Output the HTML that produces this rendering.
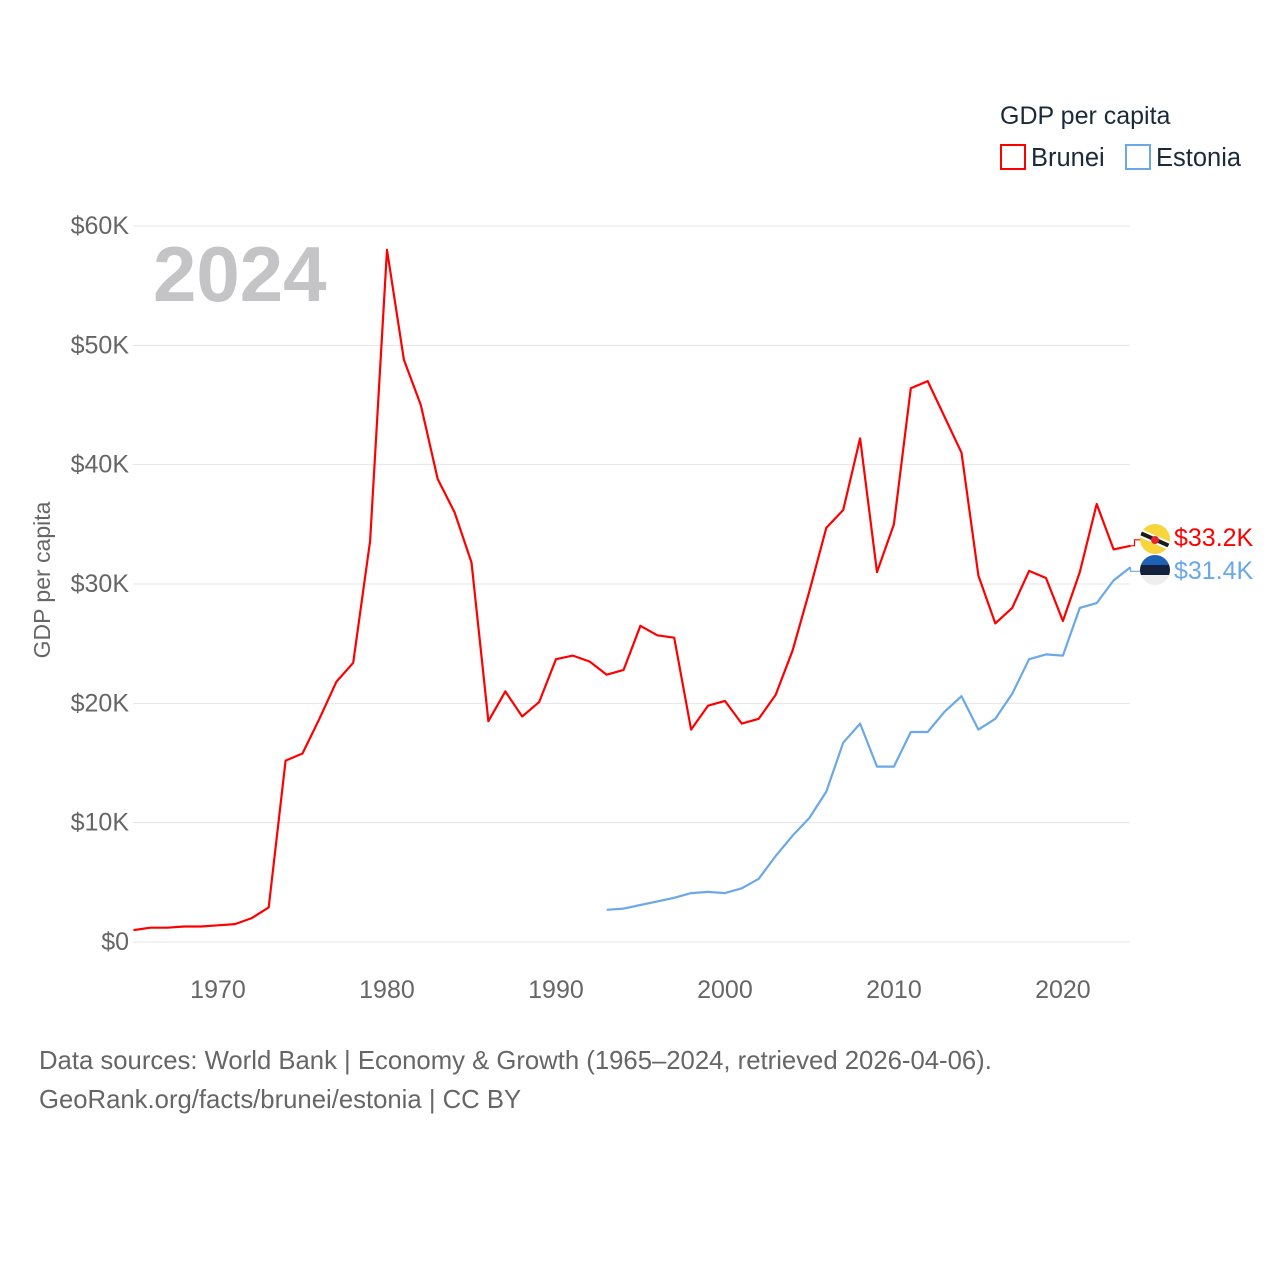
<!DOCTYPE html>
<html><head><meta charset="utf-8"><style>
body{margin:0;background:#fff;font-family:"Liberation Sans",sans-serif;}
svg text{font-family:"Liberation Sans",sans-serif;}
</style></head><body>
<svg id="chart" width="1280" height="1280" xmlns="http://www.w3.org/2000/svg">
<g id="grid"></g>
<g id="yticks"></g>
<g id="xticks"></g>
<text x="153" y="301" font-size="78" font-weight="bold" fill="#c4c4c6">2024</text>
<text transform="translate(50,580) rotate(-90)" text-anchor="middle" font-size="23" fill="#666">GDP per capita</text>
<g>
<text x="1000" y="124" font-size="25" fill="#1a2a3a">GDP per capita</text>
<rect x="1001" y="145" width="24" height="24" fill="none" stroke="#ff0000" stroke-width="2"/>
<text x="1031" y="166" font-size="25.5" fill="#1a2a3a">Brunei</text>
<rect x="1126" y="145" width="24" height="24" fill="none" stroke="#6aa8e8" stroke-width="2"/>
<text x="1156" y="166" font-size="25.5" fill="#1a2a3a">Estonia</text>
</g>
<g id="series"></g>
<g id="ends"></g>
<text x="39" y="1069" font-size="25.7" fill="#666">Data sources: World Bank | Economy &amp; Growth (1965–2024, retrieved 2026-04-06).</text>
<text x="39" y="1108" font-size="25.7" fill="#666">GeoRank.org/facts/brunei/estonia | CC BY</text>
</svg>
<script>
const yTicks=[0,10,20,30,40,50,60];
const yTickLabels=["$0","$10K","$20K","$30K","$40K","$50K","$60K"];
const xTicks=[1970,1980,1990,2000,2010,2020];
const bruneiStart=1965;
const bruneiValues=[1.0,1.2,1.2,1.3,1.3,1.4,1.5,2.0,2.9,15.2,15.8,18.7,21.8,23.4,33.6,58.0,48.8,45.0,38.8,36.0,31.8,18.5,21.0,18.9,20.1,23.7,24.0,23.5,22.4,22.8,26.5,25.7,25.5,17.8,19.8,20.2,18.3,18.7,20.7,24.4,29.4,34.7,36.2,42.2,31.0,35.0,46.4,47.0,44.0,41.0,30.7,26.7,28.0,31.1,30.5,26.9,31.0,36.7,32.9,33.2];
const estoniaStart=1993;
const estoniaValues=[2.7,2.8,3.1,3.4,3.7,4.1,4.2,4.1,4.5,5.3,7.2,8.9,10.4,12.6,16.7,18.3,14.7,14.7,17.6,17.6,19.3,20.6,17.8,18.7,20.8,23.7,24.1,24.0,28.0,28.4,30.3,31.4];
const endLabels=["$33.2K","$31.4K"];

const NS="http://www.w3.org/2000/svg";
const x=yr=>133.5+(yr-1965)*(1130.5-133.5)/(2024-1965);
const y=v=>942-v*(942-226)/60;
function mk(tag,attrs,parent,txt){const e=document.createElementNS(NS,tag);for(const k in attrs)e.setAttribute(k,attrs[k]);if(txt!==undefined)e.textContent=txt;parent.appendChild(e);return e;}
const grid=document.getElementById('grid'),yt=document.getElementById('yticks'),xt=document.getElementById('xticks');
yTicks.forEach((t,i)=>{
  const l=mk('line',{x1:133,x2:1130,y1:y(t),y2:y(t),stroke:'#e6e6e6','stroke-width':1},grid);
  
  
  const tx=mk('text',{x:129,y:y(t)+8,'text-anchor':'end','font-size':25,fill:'#666'},yt,yTickLabels[i]);
  
  
});
xTicks.forEach(t=>{
  const tx=mk('text',{x:x(t),y:998,'text-anchor':'middle','font-size':25,fill:'#666'},xt,t);
  
  
});
const series=document.getElementById('series');
function line(start,vals,color,name){
  const d=vals.map((v,i)=>(i?'L':'M')+x(start+i).toFixed(1)+','+y(v).toFixed(1)).join('');
  const p=mk('path',{d:d,fill:'none',stroke:color,'stroke-width':2.2,'stroke-linejoin':'round'},series);
  
  
}
line(bruneiStart,bruneiValues,'#ff0000','line-brunei');
line(estoniaStart,estoniaValues,'#6aa8e8','line-estonia');
const ends=document.getElementById('ends');
const bLast=bruneiValues[bruneiValues.length-1],eLast=estoniaValues[estoniaValues.length-1];
const bY=y(bLast),eY=y(eLast),xe=x(2024);
const bl=mk('path',{d:`M${xe},${bY}L${xe+4},${bY}L${xe+4},${bY-6}L${xe+10},${bY-6}`,fill:'none',stroke:'#ff0000','stroke-width':1.2},ends);

const el=mk('path',{d:`M${xe},${eY}L${xe},${eY+4}L${xe+10},${eY+4}`,fill:'none',stroke:'#6aa8e8','stroke-width':1.2},ends);

const bf=mk('g',{},ends);

mk('defs',{},bf).innerHTML='<clipPath id="cb"><circle cx="1155" cy="539" r="15"/></clipPath><clipPath id="ce"><circle cx="1155" cy="570" r="15"/></clipPath>';
const bg=mk('g',{'clip-path':'url(#cb)'},bf);
mk('rect',{x:1140,y:524,width:30,height:30,fill:'#f7d53c'},bg);
mk('path',{d:'M1138,532L1174,548',stroke:'#fff',"stroke-width":8},bg);
mk('path',{d:'M1138,532L1174,548',stroke:'#1a1a1a',"stroke-width":4},bg);
mk('circle',{cx:1155,cy:540,r:4,fill:'#e8222a'},bg);
const ef=mk('g',{'clip-path':'url(#ce)'},ends);

mk('rect',{x:1140,y:555,width:30,height:10,fill:'#1e62b6'},ef);
mk('rect',{x:1140,y:565,width:30,height:10,fill:'#14213d'},ef);
mk('rect',{x:1140,y:575,width:30,height:10,fill:'#eeeeee'},ef);
const t1=mk('text',{x:1174,y:546,'font-size':25,fill:'#ff0000'},ends,endLabels[0]);

const t2=mk('text',{x:1174,y:579,'font-size':25,fill:'#6aa8e8'},ends,endLabels[1]);

</script>
</body></html>
